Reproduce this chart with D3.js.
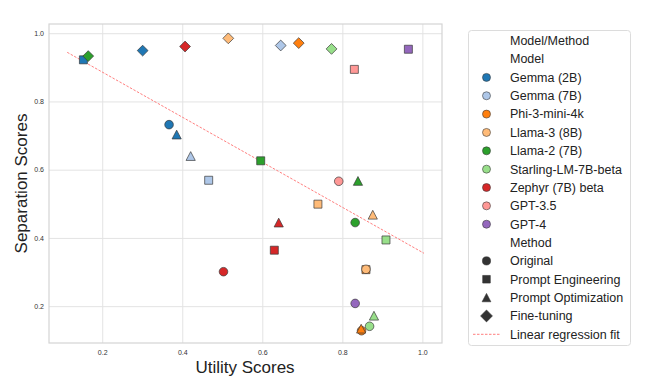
<!DOCTYPE html>
<html>
<head>
<meta charset="utf-8">
<script src="https://cdn.jsdelivr.net/npm/d3@7"></script>
<style>
  html, body { margin: 0; padding: 0; background: #fff; }
  svg { display: block; font-family: "Liberation Sans", Arial, sans-serif; }
</style>
</head>
<body>
<svg id="chart" width="652" height="381"></svg>
<script>
// ---------- data ----------
const models = ["Gemma (2B)", "Gemma (7B)", "Phi-3-mini-4k", "Llama-3 (8B)", "Llama-2 (7B)",
                "Starling-LM-7B-beta", "Zephyr (7B) beta", "GPT-3.5", "GPT-4"];
const modelColors = ["#1f77b4", "#aec7e8", "#ff7f0e", "#ffbb78", "#2ca02c",
                     "#98df8a", "#d62728", "#ff9896", "#9467bd"];
const methods = ["Original", "Prompt Engineering", "Prompt Optimization", "Fine-tuning"];

// utility / separation per model (null = not present)
const utilOriginal = [0.367, null, 0.848, 0.859, 0.832, 0.868, 0.503, 0.791, 0.832];
const sepOriginal  = [0.732, null, 0.128, 0.308, 0.445, 0.141, 0.301, 0.566, 0.208];

const utilPromptEng = [0.153, 0.466, 0.859, 0.739, 0.596, 0.909, 0.630, 0.830, 0.965];
const sepPromptEng  = [0.922, 0.569, 0.307, 0.499, 0.626, 0.394, 0.364, 0.894, 0.953];

const utilPromptOpt = [0.386, 0.421, 0.847, 0.876, 0.839, 0.879, 0.641, null, null];
const sepPromptOpt  = [0.703, 0.640, 0.134, 0.468, 0.567, 0.172, 0.445, null, null];

const utilFineTune = [0.301, 0.646, 0.691, 0.515, 0.165, 0.773, 0.407, null, null];
const sepFineTune  = [0.949, 0.964, 0.971, 0.985, 0.933, 0.954, 0.961, null, null];

const fitX = [0.1125, 1.004];
const fitY = [0.944, 0.355];

const xTicks = [0.2, 0.4, 0.6, 0.8, 1.0];
const yTicks = [0.2, 0.4, 0.6, 0.8, 1.0];

// ---------- layout ----------
const svg = d3.select("#chart");
const plot = { left: 49, right: 442, top: 24, bottom: 343 };
const x = d3.scaleLinear().domain([0.067, 1.049]).range([plot.left, plot.right]);
const y = d3.scaleLinear().domain([0.092, 1.027]).range([plot.bottom, plot.top]);

// grid
const g = svg.append("g");
g.append("g").attr("transform", `translate(0,${plot.bottom})`)
  .call(d3.axisBottom(x).tickValues(xTicks).tickSize(-(plot.bottom - plot.top)).tickFormat(d3.format(".1f")))
  .call(a => a.select(".domain").remove())
  .call(a => a.selectAll(".tick line").attr("stroke", "#e3e3e3").attr("stroke-width", 1))
  .call(a => a.selectAll(".tick text").attr("dy", 0).attr("y", 12).attr("font-size", 7)
        .attr("fill", "#333").attr("font-family", "Liberation Sans, Arial, sans-serif"));
g.append("g").attr("transform", `translate(${plot.left},0)`)
  .call(d3.axisLeft(y).tickValues(yTicks).tickSize(-(plot.right - plot.left)).tickFormat(d3.format(".1f")))
  .call(a => a.select(".domain").remove())
  .call(a => a.selectAll(".tick line").attr("stroke", "#e3e3e3").attr("stroke-width", 1))
  .call(a => a.selectAll(".tick text").attr("x", -5).attr("dy", "0.32em").attr("font-size", 7)
        .attr("fill", "#333").attr("font-family", "Liberation Sans, Arial, sans-serif"));

// spines
svg.append("rect").attr("x", plot.left).attr("y", plot.top)
  .attr("width", plot.right - plot.left).attr("height", plot.bottom - plot.top)
  .attr("fill", "none").attr("stroke", "#d4d4d4").attr("stroke-width", 1.2);

// regression line
svg.append("line")
  .attr("x1", x(fitX[0])).attr("y1", y(fitY[0]))
  .attr("x2", x(fitX[1])).attr("y2", y(fitY[1]))
  .attr("stroke", "#ff7070").attr("stroke-width", 0.9)
  .attr("stroke-dasharray", "2.5,1.5");

// marker shapes
function markerPath(method, s) {
  s = s || 1;
  if (method === 0) { const r = 4.3 * s; return `M${r},0A${r},${r} 0 1,1 ${-r},0A${r},${r} 0 1,1 ${r},0Z`; }
  if (method === 1) { const h = 4.0 * s; return `M${-h},${-h}H${h}V${h}H${-h}Z`; }
  if (method === 2) { const w = 4.6 * s, h = 4.4 * s; return `M0,${-h}L${w},${h}L${-w},${h}Z`; }
  const d = 5.4 * s; return `M0,${-d}L${d},0L0,${d}L${-d},0Z`;
}

const utilByMethod = [utilOriginal, utilPromptEng, utilPromptOpt, utilFineTune];
const sepByMethod = [sepOriginal, sepPromptEng, sepPromptOpt, sepFineTune];

const points = [];
models.forEach((m, i) => {
  methods.forEach((meth, j) => {
    const ux = utilByMethod[j][i], sy = sepByMethod[j][i];
    if (ux != null && sy != null) points.push({ model: i, method: j, u: ux, s: sy });
  });
});

svg.append("g").selectAll("path").data(points).join("path")
  .attr("transform", d => `translate(${x(d.u)},${y(d.s)})`)
  .attr("d", d => markerPath(d.method))
  .attr("fill", d => modelColors[d.model])
  .attr("stroke", "#3a3a3a").attr("stroke-width", 0.7);

// axis titles
svg.append("text").attr("x", 245).attr("y", 373).attr("text-anchor", "middle")
  .attr("font-size", 17).attr("fill", "#222").text("Utility Scores");
svg.append("text").attr("transform", `translate(27,${(plot.top + plot.bottom) / 2}) rotate(-90)`)
  .attr("text-anchor", "middle").attr("font-size", 17).attr("fill", "#222").text("Separation Scores");

// legend
const leg = svg.append("g");
leg.append("rect").attr("x", 468.5).attr("y", 30.5).attr("width", 162).attr("height", 315)
  .attr("rx", 3).attr("fill", "#fff").attr("stroke", "#dcdcdc").attr("stroke-width", 1);

const rowH = 18.35, row0 = 40.7, textX = 510, markX = 486.5;
const rows = [];
rows.push({ label: "Model/Method", type: "title" });
rows.push({ label: "Model", type: "title" });
models.forEach((m, i) => rows.push({ label: m, type: "model", i }));
rows.push({ label: "Method", type: "title" });
methods.forEach((m, j) => rows.push({ label: m, type: "method", j }));
rows.push({ label: "Linear regression fit", type: "line" });

rows.forEach((r, k) => {
  const cy = row0 + k * rowH;
  leg.append("text").attr("x", textX).attr("y", cy).attr("dy", "0.35em")
    .attr("font-size", 12.5).attr("fill", "#222").text(r.label);
  if (r.type === "model") {
    leg.append("circle").attr("cx", markX).attr("cy", cy).attr("r", 4)
      .attr("fill", modelColors[r.i]).attr("stroke", "#3a3a3a").attr("stroke-width", 0.6);
  } else if (r.type === "method") {
    leg.append("path").attr("transform", `translate(${markX},${cy})`)
      .attr("d", markerPath(r.j, r.j === 3 ? 1.1 : 0.95))
      .attr("fill", "#333").attr("stroke", "#333").attr("stroke-width", 0.6);
  } else if (r.type === "line") {
    leg.append("line").attr("x1", 473).attr("x2", 500).attr("y1", cy).attr("y2", cy)
      .attr("stroke", "#ff7070").attr("stroke-width", 0.9).attr("stroke-dasharray", "2.5,1.5");
  }
});
</script>
</body>
</html>
